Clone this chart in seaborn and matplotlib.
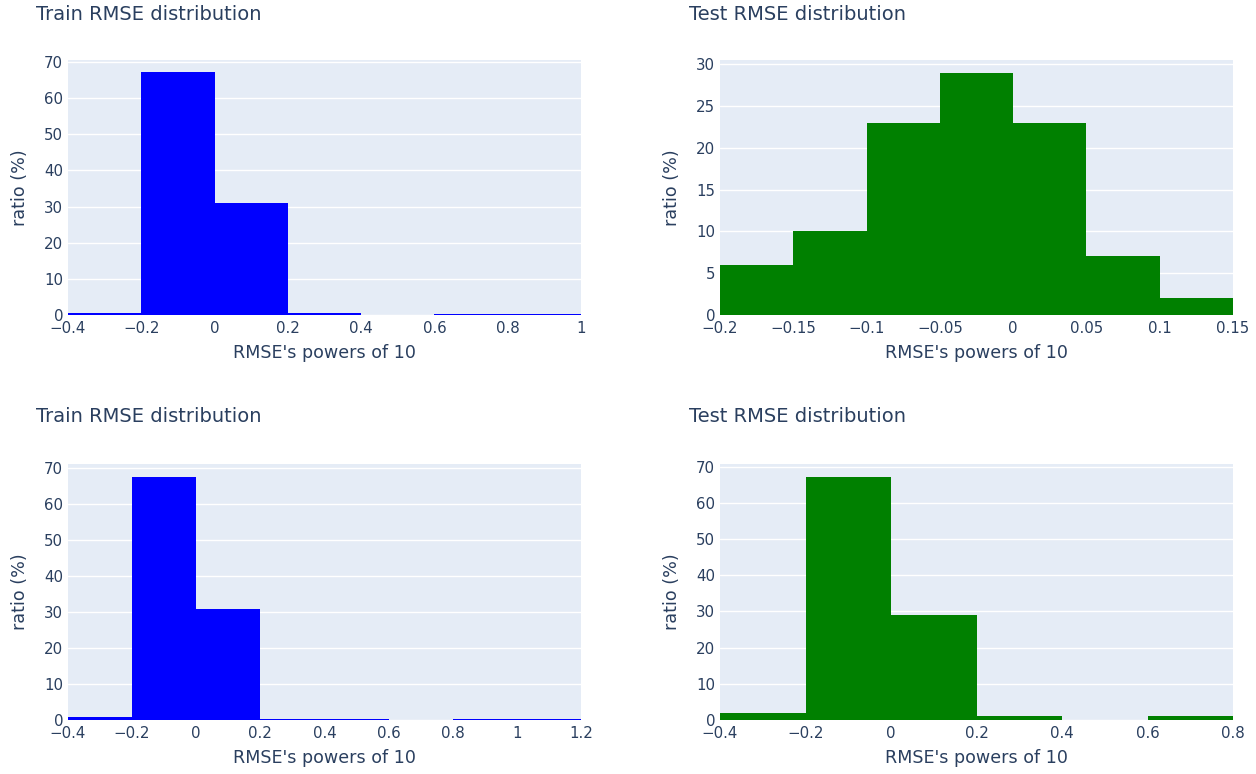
import numpy as np
import matplotlib
matplotlib.use("Agg")
import matplotlib.pyplot as plt
import seaborn as sns

# Histogram bin edges (log10 of RMSE) and ratio per bin (%)
train1_edges = [-0.4, -0.2, 0.0, 0.2, 0.4, 0.6, 0.8, 1.0]
train1_ratio = [0.6, 67.3, 31.0, 0.6, 0.0, 0.2, 0.2]

test1_edges = [-0.2, -0.15, -0.1, -0.05, 0.0, 0.05, 0.1, 0.15]
test1_ratio = [6, 10, 23, 29, 23, 7, 2]

train2_edges = [-0.4, -0.2, 0.0, 0.2, 0.4, 0.6, 0.8, 1.0, 1.2]
train2_ratio = [0.8, 67.5, 31.0, 0.4, 0.2, 0.0, 0.4, 0.2]

test2_edges = [-0.4, -0.2, 0.0, 0.2, 0.4, 0.6, 0.8]
test2_ratio = [2, 67, 29, 1, 0, 1]

train_title = "Train RMSE distribution"
test_title = "Test RMSE distribution"
x_label = "RMSE's powers of 10"
y_label = "ratio (%)"

BG = "#E5ECF6"
TXT = "#2a3f5f"

sns.set_theme(style="white")
plt.rcParams["font.family"] = ["DejaVu Sans"]

fig = plt.figure(figsize=(12.56, 7.74), dpi=100)
W, H = 1256, 774


def fmt(v):
    s = f"{v:.2f}".rstrip("0").rstrip(".")
    if s in ("-0", "0"):
        return "0"
    return s.replace("-", "\u2212")


def panel(px0, py0, px1, py1, edges, ratio, color, title, ymax, xstep, ystep, title_x, title_y):
    ax = fig.add_axes([px0 / W, 1 - py1 / H, (px1 - px0) / W, (py1 - py0) / H])
    ax.set_facecolor(BG)
    e = np.array(edges, dtype=float)
    centers = list((e[:-1] + e[1:]) / 2)
    sns.histplot(x=centers, weights=list(ratio), bins=list(edges), stat="count", color=color,
                 alpha=1, linewidth=0, edgecolor="none", ax=ax, zorder=3)
    ax.set_xlim(e[0], e[-1])
    ax.set_ylim(0, ymax)
    yt = np.arange(0, ymax, ystep)
    ax.set_yticks(yt)
    ax.set_yticklabels([fmt(v) for v in yt])
    xt = np.arange(e[0], e[-1] + xstep / 2, xstep)
    ax.set_xticks(xt)
    ax.set_xticklabels([fmt(v) for v in xt])
    ax.grid(axis="y", color="white", linewidth=1.0, zorder=0)
    ax.grid(axis="x", visible=False)
    ax.set_axisbelow(True)
    for s in ax.spines.values():
        s.set_visible(False)
    ax.tick_params(axis="both", length=0, labelsize=10.8, colors=TXT)
    ax.tick_params(axis="x", pad=4.5)
    ax.tick_params(axis="y", pad=3.5)
    ax.set_xlabel(x_label, fontsize=12.6, color=TXT, labelpad=5.5)
    ax.set_ylabel(y_label, fontsize=12.6, color=TXT, labelpad=11)
    fig.text(title_x / W, 1 - title_y / H, title, fontsize=14, color=TXT,
             ha="left", va="center")
    return ax


panel(68, 60, 581, 315, train1_edges, train1_ratio, "blue", train_title, 70.55, 0.2, 10, 36, 14)
panel(720, 60, 1233, 315, test1_edges, test1_ratio, "green", test_title, 30.5, 0.05, 5, 689, 14)
panel(68, 464, 581, 720, train2_edges, train2_ratio, "blue", train_title, 71.2, 0.2, 10, 36, 417)
panel(720, 464, 1233, 720, test2_edges, test2_ratio, "green", test_title, 70.7, 0.2, 10, 689, 417)

fig.savefig("out.png", dpi=100, facecolor="white")
